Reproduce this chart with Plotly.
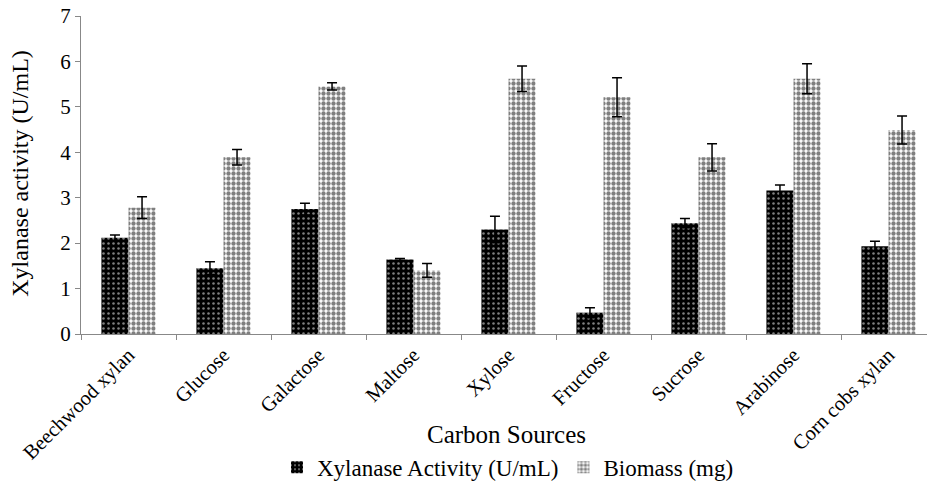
import plotly.graph_objects as go

categories = ["Beechwood xylan", "Glucose", "Galactose", "Maltose", "Xylose",
              "Fructose", "Sucrose", "Arabinose", "Corn cobs xylan"]
xylanase = [2.12, 1.45, 2.75, 1.64, 2.30, 0.47, 2.44, 3.16, 1.93]
xylanase_err = [0.06, 0.14, 0.13, 0.02, 0.29, 0.11, 0.10, 0.12, 0.11]
biomass = [2.78, 3.89, 5.45, 1.40, 5.62, 5.21, 3.89, 5.62, 4.49]
biomass_err = [0.24, 0.17, 0.08, 0.15, 0.28, 0.43, 0.30, 0.33, 0.31]

FONT = "Liberation Serif"

fig = go.Figure()
fig.add_trace(go.Bar(
    x=categories, y=xylanase, name="Xylanase Activity (U/mL)",
    marker=dict(color="black", line=dict(width=0),
                pattern=dict(shape=".", fgcolor="#ffffff", bgcolor="#000000",
                             size=5, solidity=0.2)),
    error_y=dict(type="data", array=xylanase_err, visible=True,
                 color="black", thickness=1.5, width=5),
))
fig.add_trace(go.Bar(
    x=categories, y=biomass, name="Biomass (mg)",
    marker=dict(color="white", line=dict(width=0),
                pattern=dict(shape=".", fgcolor="#000000", bgcolor="#ffffff",
                             size=5, solidity=0.6)),
    error_y=dict(type="data", array=biomass_err, visible=True,
                 color="black", thickness=1.5, width=5),
))

fig.update_layout(
    width=927, height=490,
    margin=dict(l=81, r=0, t=16, b=155.5),
    paper_bgcolor="white", plot_bgcolor="white",
    barmode="group", bargap=0.43, bargroupgap=0,
    font=dict(family=FONT, size=20, color="black"),
    showlegend=True,
    legend=dict(orientation="h", x=(508 - 81) / 846, xanchor="center",
                y=(334.5 - 468) / 318.5, yanchor="middle",
                font=dict(family=FONT, size=23), itemwidth=30,
                traceorder="normal"),
    annotations=[
        dict(text="Carbon Sources", xref="paper", yref="paper",
             x=(507 - 81) / 846, y=(334.5 - 435) / 318.5,
             xanchor="center", yanchor="middle", showarrow=False,
             font=dict(family=FONT, size=25)),
        dict(text="Xylanase activity (U/mL)", xref="paper", yref="paper",
             x=(20 - 81) / 846, y=(334.5 - 174) / 318.5, textangle=-90,
             xanchor="center", yanchor="middle", showarrow=False,
             font=dict(family=FONT, size=24)),
    ],
)
fig.update_xaxes(
    range=[-0.5, -0.5 + 846 / 95], showline=True, linecolor="#888888", linewidth=1,
    ticks="outside", tickson="boundaries", ticklen=5, tickcolor="#888888",
    tickangle=-45, tickfont=dict(family=FONT, size=20.5), showgrid=False,
)
fig.update_yaxes(
    range=[0, 7], dtick=1, showline=True, linecolor="#888888", linewidth=1,
    ticks="outside", ticklen=5, tickcolor="#888888", showgrid=False,
    zeroline=False, tickfont=dict(family=FONT, size=21),
)

fig.write_html("out.html")
